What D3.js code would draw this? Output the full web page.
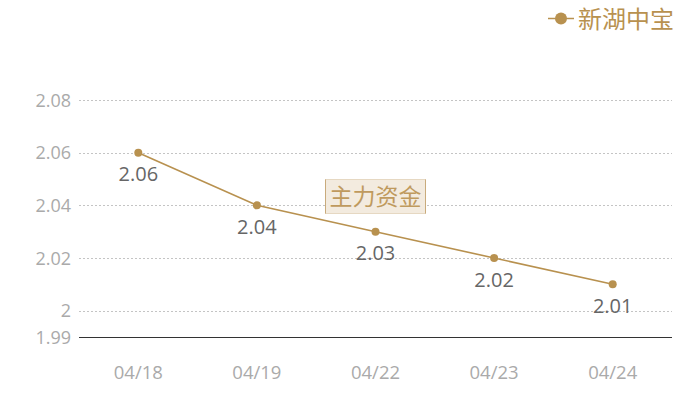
<!DOCTYPE html>
<html>
<head>
<meta charset="utf-8">
<script src="https://cdn.jsdelivr.net/npm/d3@7/dist/d3.min.js"></script>
<style>
  body { margin: 0; background: #fff; }
  svg { display: block; font-family: "Open Sans", "Noto Sans CJK SC", sans-serif; }
</style>
</head>
<body>
<script>
var w = 700;
var h = 400;
var dates = ['04/18', '04/19', '04/22', '04/23', '04/24'];
var values = [2.06, 2.04, 2.03, 2.02, 2.01];
var yTicks = [1.99, 2, 2.02, 2.04, 2.06, 2.08];
var seriesName = '新湖中宝';
var gold = '#b8914f';

var margin = { left: 79, right: 28, top: 100, bottom: 63 };

var svg = d3.select('body')
  .append('svg')
  .attr('width', w)
  .attr('height', h);

var x = d3.scaleBand()
  .domain(dates)
  .range([margin.left, w - margin.right]);

var y = d3.scaleLinear()
  .domain([1.99, 2.08])
  .range([h - margin.bottom, margin.top]);

// grid lines
svg.append('g')
  .selectAll('line')
  .data(yTicks.filter(function(d){ return d !== 1.99; }))
  .enter()
  .append('line')
  .attr('x1', margin.left)
  .attr('x2', w - margin.right)
  .attr('y1', function(d){ return Math.round(y(d)) + 0.5; })
  .attr('y2', function(d){ return Math.round(y(d)) + 0.5; })
  .attr('stroke', '#c4c4c4')
  .attr('stroke-dasharray', '2,2');

// y labels
svg.append('g')
  .selectAll('text')
  .data(yTicks)
  .enter()
  .append('text')
  .attr('x', 71)
  .attr('y', function(d){ return y(d) + 6.5; })
  .attr('text-anchor', 'end')
  .attr('font-size', 18)
  .attr('fill', '#aaa')
  .text(function(d){ return d3.format('~g')(d); });

// x axis line
svg.append('line')
  .attr('x1', margin.left)
  .attr('x2', w - margin.right)
  .attr('y1', Math.round(y(1.99)) + 0.5)
  .attr('y2', Math.round(y(1.99)) + 0.5)
  .attr('stroke', '#333');

// x labels
svg.append('g')
  .selectAll('text')
  .data(dates)
  .enter()
  .append('text')
  .attr('x', function(d, i){ return x(d) + x.bandwidth() / 2; })
  .attr('y', 379)
  .attr('text-anchor', 'middle')
  .attr('font-size', 18.5)
  .attr('fill', '#aaa')
  .text(function(d){ return d; });

// watermark
var wm = svg.append('g');
wm.append('rect')
  .attr('x', 325.5)
  .attr('y', 179.5)
  .attr('width', 100)
  .attr('height', 34)
  .attr('fill', '#f3ebdf')
  .attr('stroke', '#e6d8c2');
wm.append('line').attr('x1', 325.5).attr('x2', 325.5).attr('y1', 179.5).attr('y2', 213.5).attr('stroke', '#c9ab7c');
wm.append('line').attr('x1', 425.5).attr('x2', 425.5).attr('y1', 179.5).attr('y2', 213.5).attr('stroke', '#c9ab7c');
wm.append('text')
  .attr('x', 375.5)
  .attr('y', 205)
  .attr('text-anchor', 'middle')
  .attr('font-size', 23)
  .attr('font-family', '"Noto Sans CJK SC", sans-serif')
  .attr('fill', '#bf9a5e')
  .text('主力资金');

// line
var line = d3.line()
  .x(function(d, i){ return x(dates[i]) + x.bandwidth() / 2; })
  .y(function(d){ return y(d); });

svg.append('path')
  .datum(values)
  .attr('d', line)
  .attr('fill', 'none')
  .attr('stroke', gold)
  .attr('stroke-width', 1.6);

svg.append('g')
  .selectAll('circle')
  .data(values)
  .enter()
  .append('circle')
  .attr('cx', function(d, i){ return x(dates[i]) + x.bandwidth() / 2; })
  .attr('cy', function(d){ return y(d); })
  .attr('r', 4)
  .attr('fill', gold);

// data labels
svg.append('g')
  .selectAll('text')
  .data(values)
  .enter()
  .append('text')
  .attr('x', function(d, i){ return x(dates[i]) + x.bandwidth() / 2; })
  .attr('y', function(d){ return y(d) + 28.5; })
  .attr('text-anchor', 'middle')
  .attr('font-size', 20)
  .attr('fill', '#666')
  .text(function(d){ return d3.format('.2f')(d); });

// legend
var lg = svg.append('g');
lg.append('line')
  .attr('x1', 548).attr('x2', 574)
  .attr('y1', 18.5).attr('y2', 18.5)
  .attr('stroke', gold)
  .attr('stroke-width', 1.5);
lg.append('circle')
  .attr('cx', 561).attr('cy', 18.5)
  .attr('r', 6)
  .attr('fill', gold);
lg.append('text')
  .attr('x', 578)
  .attr('y', 28)
  .attr('font-size', 24)
  .attr('font-family', '"Noto Sans CJK SC", sans-serif')
  .attr('fill', gold)
  .text(seriesName);
</script>
</body>
</html>
